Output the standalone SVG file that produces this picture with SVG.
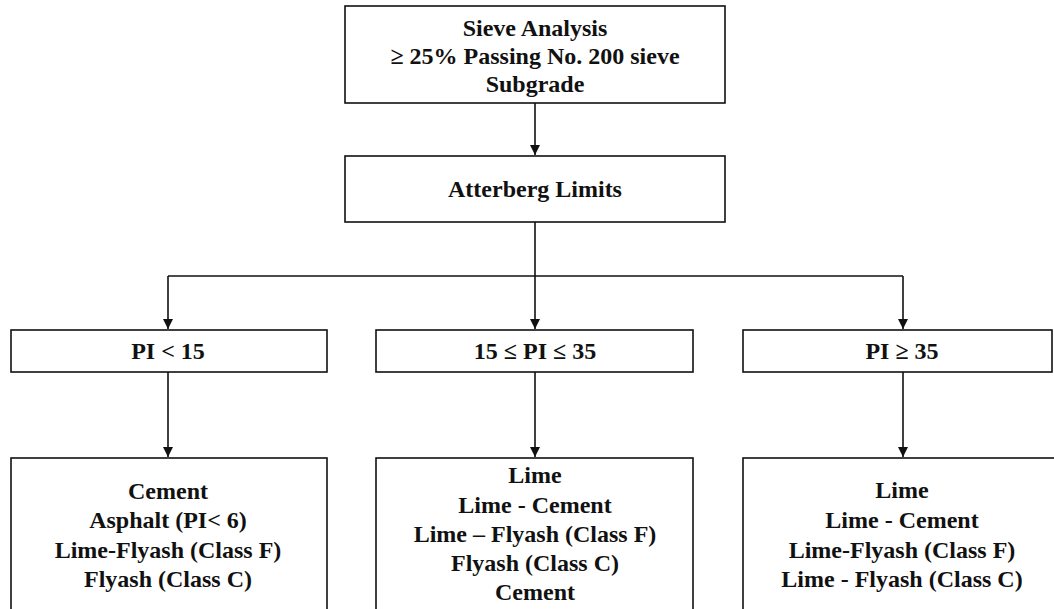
<svg xmlns="http://www.w3.org/2000/svg" width="1054" height="609" viewBox="0 0 1054 609">
<style>
.box{fill:#fff;stroke:#111;stroke-width:1.6}
.t{font-family:'Liberation Serif','Times New Roman','DejaVu Serif',serif;font-weight:bold;font-size:24px;fill:#111;text-anchor:middle}
.c{stroke:#111;stroke-width:1.6;fill:none}
</style>
<defs>
<marker id="ah" markerWidth="12" markerHeight="12" refX="10" refY="6" orient="auto" markerUnits="userSpaceOnUse">
<path d="M0,1 L10,6 L0,11 Z" fill="#111"/>
</marker>
</defs>
<g id="sieve">
<rect class="box" x="345" y="6" width="380" height="97"/>
<text class="t" x="535" y="36">Sieve Analysis</text>
<text class="t" x="535" y="64">≥ 25% Passing No. 200 sieve</text>
<text class="t" x="535" y="92">Subgrade</text>
</g>
<g id="atterberg">
<rect class="box" x="345" y="156" width="380" height="66"/>
<text class="t" x="535" y="197">Atterberg Limits</text>
</g>
<g id="pi-low">
<rect class="box" x="11" y="330" width="316" height="42"/>
<text class="t" x="168" y="359">PI &lt; 15</text>
</g>
<g id="pi-mid">
<rect class="box" x="376" y="330" width="317" height="42"/>
<text class="t" x="535" y="359">15 ≤ PI ≤ 35</text>
</g>
<g id="pi-high">
<rect class="box" x="743" y="330" width="309" height="42"/>
<text class="t" x="902" y="359">PI ≥ 35</text>
</g>
<g id="res-low">
<rect class="box" x="11" y="458" width="316" height="160"/>
<text class="t" x="168" y="499">Cement</text>
<text class="t" x="168" y="528">Asphalt (PI&lt; 6)</text>
<text class="t" x="168" y="558">Lime-Flyash (Class F)</text>
<text class="t" x="168" y="587">Flyash (Class C)</text>
</g>
<g id="res-mid">
<rect class="box" x="376" y="458" width="317" height="160"/>
<text class="t" x="535" y="483">Lime</text>
<text class="t" x="535" y="513">Lime - Cement</text>
<text class="t" x="535" y="542">Lime – Flyash (Class F)</text>
<text class="t" x="535" y="571">Flyash (Class C)</text>
<text class="t" x="535" y="600">Cement</text>
</g>
<g id="res-high">
<rect class="box" x="743" y="458" width="320" height="160"/>
<text class="t" x="902" y="498">Lime</text>
<text class="t" x="902" y="528">Lime - Cement</text>
<text class="t" x="902" y="558">Lime-Flyash (Class F)</text>
<text class="t" x="902" y="587">Lime - Flyash (Class C)</text>
</g>
<g id="connectors">
<line class="c" x1="535" y1="103" x2="535" y2="155" marker-end="url(#ah)"/>
<line class="c" x1="535" y1="222" x2="535" y2="329" marker-end="url(#ah)"/>
<line class="c" x1="168" y1="276" x2="903" y2="276"/>
<line class="c" x1="168" y1="276" x2="168" y2="329" marker-end="url(#ah)"/>
<line class="c" x1="903" y1="276" x2="903" y2="329" marker-end="url(#ah)"/>
<line class="c" x1="168" y1="372" x2="168" y2="457" marker-end="url(#ah)"/>
<line class="c" x1="535" y1="372" x2="535" y2="457" marker-end="url(#ah)"/>
<line class="c" x1="903" y1="372" x2="903" y2="457" marker-end="url(#ah)"/>
</g>
</svg>
